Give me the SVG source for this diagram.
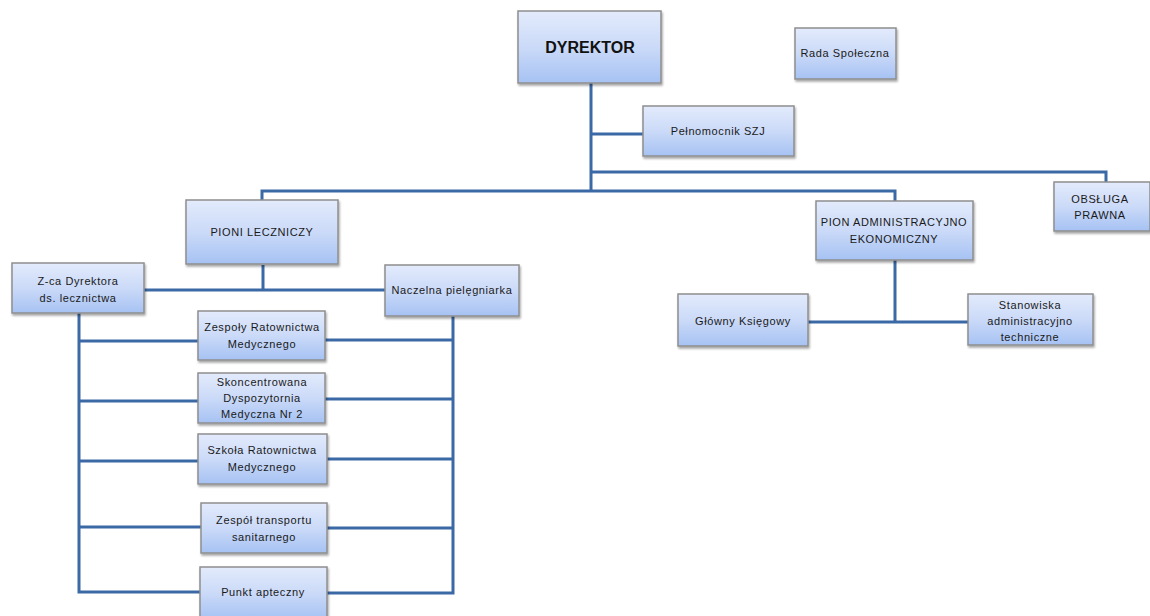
<svg xmlns="http://www.w3.org/2000/svg" width="1150" height="616" viewBox="0 0 1150 616">
<defs>
<linearGradient id="g" x1="0" y1="0" x2="0" y2="1">
<stop offset="0" stop-color="#e3ebfc"/>
<stop offset="0.5" stop-color="#cbdaf8"/>
<stop offset="1" stop-color="#a6c2f3"/>
</linearGradient>
<filter id="sh" x="-10%" y="-10%" width="125%" height="135%">
<feDropShadow dx="1" dy="2" stdDeviation="1.2" flood-color="#000" flood-opacity="0.35"/>
</filter>
<style>
.b{fill:url(#g);stroke:#8e8e8e;stroke-width:1.5;filter:url(#sh)}
.t{font-family:"Liberation Sans",Arial,sans-serif;font-size:11px;fill:#1a1a1a;text-anchor:middle;letter-spacing:0.6px}
.d{font-family:"Liberation Sans",Arial,sans-serif;font-size:16px;font-weight:bold;fill:#111;text-anchor:middle}
.c{fill:none;stroke:#3a69a6;stroke-width:3}
</style>
</defs>
<rect width="1150" height="616" fill="#fff"/>
<g id="connectors">
<path class="c" d="M591 83V191M591 134H643M591 172H1106V182M262 200V191H895V201"/>
<path class="c" d="M263 265V290M144 290H385"/>
<path class="c" d="M79 313V592H200M79 341H198M79 401H198M79 461H198M79 527H201"/>
<path class="c" d="M453 316V593H327M325 340H453M325 399H453M327 459H453M327 528H453"/>
<path class="c" d="M895 260V322M808 322H968"/>
</g>
<g id="dyrektor"><rect class="b" x="518" y="11" width="143" height="72"/><text class="d" x="590" y="53">DYREKTOR</text></g>
<g id="rada"><rect class="b" x="795" y="28" width="101" height="51"/><text class="t" x="845" y="57">Rada Społeczna</text></g>
<g id="pelnomocnik"><rect class="b" x="643" y="106" width="151" height="50"/><text class="t" x="718" y="135">Pełnomocnik SZJ</text></g>
<g id="obsluga"><rect class="b" x="1054" y="182" width="96" height="49"/><text class="t" x="1100" y="203">OBSŁUGA</text><text class="t" x="1100" y="219">PRAWNA</text></g>
<g id="pion-leczniczy"><rect class="b" x="186" y="200" width="152" height="64"/><text class="t" x="262" y="236">PIONI LECZNICZY</text></g>
<g id="pion-admin"><rect class="b" x="816" y="201" width="157" height="59"/><text class="t" x="894" y="226">PION ADMINISTRACYJNO</text><text class="t" x="894" y="243">EKONOMICZNY</text></g>
<g id="zca"><rect class="b" x="12" y="263" width="132" height="50"/><text class="t" x="78" y="285">Z-ca Dyrektora</text><text class="t" x="78" y="302">ds. lecznictwa</text></g>
<g id="naczelna"><rect class="b" x="385" y="265" width="134" height="51"/><text class="t" x="452" y="294">Naczelna pielęgniarka</text></g>
<g id="zespoly"><rect class="b" x="198" y="311" width="127" height="49"/><text class="t" x="262" y="331">Zespoły Ratownictwa</text><text class="t" x="262" y="348">Medycznego</text></g>
<g id="skoncentrowana"><rect class="b" x="198" y="373" width="127" height="50"/><text class="t" x="262" y="386">Skoncentrowana</text><text class="t" x="262" y="402">Dyspozytornia</text><text class="t" x="262" y="418">Medyczna Nr 2</text></g>
<g id="szkola"><rect class="b" x="198" y="434" width="129" height="50"/><text class="t" x="262" y="454">Szkoła Ratownictwa</text><text class="t" x="262" y="471">Medycznego</text></g>
<g id="transport"><rect class="b" x="201" y="503" width="126" height="50"/><text class="t" x="264" y="524">Zespół transportu</text><text class="t" x="264" y="541">sanitarnego</text></g>
<g id="punkt"><rect class="b" x="200" y="567" width="127" height="52"/><text class="t" x="263" y="596">Punkt apteczny</text></g>
<g id="ksiegowy"><rect class="b" x="678" y="294" width="130" height="52"/><text class="t" x="743" y="325">Główny Księgowy</text></g>
<g id="stanowiska"><rect class="b" x="968" y="294" width="125" height="51"/><text class="t" x="1030" y="309">Stanowiska</text><text class="t" x="1030" y="325">administracyjno</text><text class="t" x="1030" y="341">techniczne</text></g>
</svg>
